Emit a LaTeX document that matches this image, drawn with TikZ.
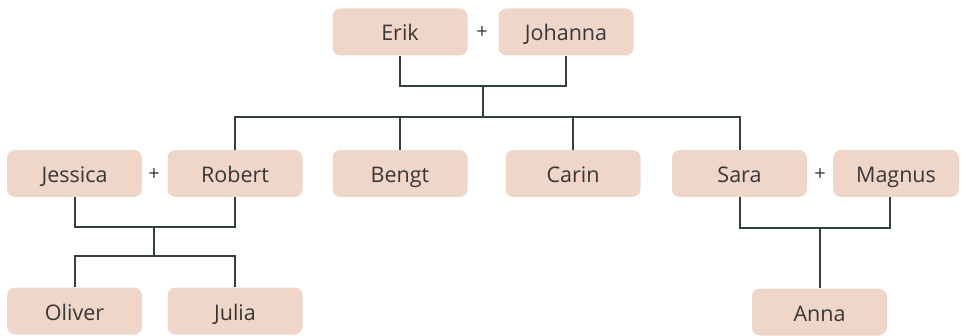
\documentclass[tikz,border=0pt]{standalone}
\usepackage{fontspec}
\setmainfont{Open Sans}
\definecolor{boxfill}{RGB}{240,213,201}
\definecolor{txt}{RGB}{55,55,55}
\definecolor{linec}{RGB}{52,64,62}
\begin{document}
\begin{tikzpicture}[x=1pt,y=1pt,
  person/.style={fill=boxfill,rounded corners=8pt,minimum width=135pt,minimum height=47pt,inner sep=0pt,text=txt,text height=18pt,text depth=0pt,font=\fontsize{21.5}{25}\selectfont},
  plus/.style={text=txt,font=\fontsize{20}{24}\selectfont,inner sep=0pt},
  conn/.style={draw=linec,line width=2pt}]
\useasboundingbox (0,0) rectangle (961,335);
% row 1
\node[person] (erik) at (400,303) {Erik};
\node[person] (johanna) at (566,303) {Johanna};
\node[plus] (p1) at (482,302) {+};
% row 2
\node[person] (jessica) at (74.5,161.5) {Jessica};
\node[person] (robert) at (235,161.5) {Robert};
\node[plus] (p2) at (154,160.5) {+};
\node[person] (bengt) at (400,161.5) {Bengt};
\node[person] (carin) at (573,161.5) {Carin};
\node[person] (sara) at (739.5,161.5) {Sara};
\node[person,minimum width=126pt] (magnus) at (896,161.5) {Magnus};
\node[plus] (p3) at (820,160.5) {+};
% row 3
\node[person] (oliver) at (74.5,24) {Oliver};
\node[person] (julia) at (235,24) {Julia};
\node[person] (anna) at (819.5,23) {Anna};
% junctions
\coordinate (j1) at (483,249);
\coordinate (j1b) at (483,218);
\coordinate (j2) at (154,108);
\coordinate (j2b) at (154,79);
\coordinate (j3) at (819.5,107);
\coordinate (mg) at (890,138);
% connectors
\draw[conn] (erik.south) |- (j1) -| (johanna.south);
\draw[conn] (j1) -- (j1b);
\draw[conn] (robert.north) |- (j1b) -| (sara.north);
\draw[conn] (bengt.north) -- (bengt.north |- j1b);
\draw[conn] (carin.north) -- (carin.north |- j1b);
\draw[conn] (jessica.south) |- (j2) -| (robert.south);
\draw[conn] (j2) -- (j2b);
\draw[conn] (oliver.north) |- (j2b) -| (julia.north);
\draw[conn] (sara.south) |- (j3) -| (mg);
\draw[conn] (j3) -- (anna.north);
\end{tikzpicture}
\end{document}
